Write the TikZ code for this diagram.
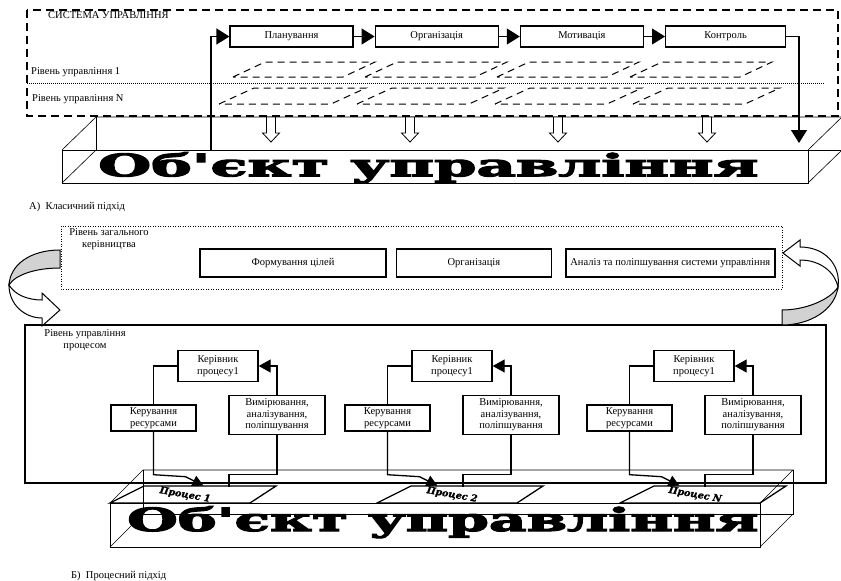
\documentclass[tikz,border=0pt]{standalone}
\usepackage{graphicx}
\usepackage{fontspec}
\setmainfont{Liberation Serif}
\newfontfamily\objfont{DejaVu Serif}[BoldFeatures={FakeBold=3}]
\newfontfamily\prfont{DejaVu Serif}[BoldItalicFeatures={FakeBold=1.5}]
\usetikzlibrary{positioning,arrows.meta,calc}

\tikzset{
  proc/.style={draw, line width=1.2pt, fill=white, minimum width=123pt, minimum height=21pt, inner sep=1pt},
  topbox/.style={draw, line width=1.4pt, fill=white, minimum height=28pt, inner sep=1pt},
  unitbox/.style={draw, line width=1.4pt, fill=white, align=center, inner sep=1pt, font=\fontsize{10.5}{11.5}\selectfont},
  flow/.style={line width=1.2pt, -{Triangle[length=13pt,width=16pt]}},
  link/.style={line width=1.3pt},
  wire/.style={line width=0.6pt},
  lvl/.style={line width=1pt, dash pattern=on 7pt off 5pt},
  ribbon/.style={draw, line width=1pt},
}

\begin{document}
\begin{tikzpicture}[x=1pt, y=-1pt, font=\fontsize{10.5}{12}\selectfont, node distance=21pt]
  \useasboundingbox (0,0) rectangle (841,581);

  % A) classic approach
  \draw[line width=1.3pt, dash pattern=on 8pt off 5pt] (27,10) rectangle (838,116);
  \node[anchor=west, inner sep=0] (sys) at (48,15) {СИСТЕМА УПРАВЛІННЯ};

  \node[proc] (plan) at (291.5,36.5) {Планування};
  \node[proc, right=of plan] (org) {Організація};
  \node[proc, right=of org] (motiv) {Мотивація};
  \node[proc, right=of motiv, minimum width=120pt] (kontr) {Контроль};

  \draw[flow] (plan) -- (org);
  \draw[flow] (org) -- (motiv);
  \draw[flow] (motiv) -- (kontr);

  \draw[line width=0.6pt, dash pattern=on 1pt off 1pt] (27,83) -- (825,83);
  \node[anchor=west, inner sep=0] (lvl1) at (31,72) {Рівень управління 1};
  \node[anchor=west, inner sep=0] (lvlN) at (32,99) {Рівень управління N};

  \foreach \px in {233,365,497,630}
    \draw[lvl] (\px,77) -- ++(32,-15) -- ++(110,0) -- ++(-32,15) -- cycle;
  \foreach \px in {219,357,495,633}
    \draw[lvl] (\px,104) -- ++(35,-16) -- ++(112,0) -- ++(-35,16) -- cycle;

  % object box (top)
  \draw[wire] (62,150) rectangle (808,183);
  \draw[wire] (62,150) -- (96,117) -- (842,117);
  \draw[wire] (96,117) -- (96,150) -- (842,150);
  \draw[wire] (62,183) -- (96,150);
  \draw[wire] (808,150) -- (842,117);
  \draw[wire] (808,183) -- (842,150);
  \node[anchor=north west, inner sep=0] (obj1) at (98,152)
    {\resizebox*{660pt}{31pt}{\objfont\bfseries Об'єкт управління}};

  \foreach \ax in {271,410,558,707}
    \draw[line width=0.8pt, fill=white] (\ax-4.5,117) -- (\ax+4.5,117) -- (\ax+4.5,133)
      -- (\ax+8.5,133) -- (\ax,142) -- (\ax-8.5,133) -- (\ax-4.5,133) -- cycle;

  \coordinate (fbin) at (211,150);
  \coordinate (fbout) at (799,143);
  \draw[flow] (fbin) |- (plan.west);
  \draw[flow] (kontr.east) -| (fbout);

  \node[anchor=west, inner sep=0] (capA) at (29,207) {А)\enspace Класичний підхід};

  % B) process approach
  \draw[line width=1pt, dash pattern=on 1pt off 1.5pt] (61,226) rectangle (782,289);
  \node[align=center, inner sep=0] (zag) at (109,239) {Рівень загального\\керівництва};

  \node[topbox, minimum width=186pt] (cili) at (293,263) {Формування цілей};
  \node[topbox, minimum width=155pt, right=9pt of cili] (org2) {Організація};
  \node[topbox, minimum width=209pt, right=13pt of org2] (analiz) {Аналіз та поліпшування системи управління};

  \draw[line width=1.5pt] (25,325) rectangle (826,483);
  \node[align=center, inner sep=0] (proclvl) at (85,340) {Рівень управління\\процесом};

  % curved arrows
  \draw[ribbon, fill=gray!35] (60,250) .. controls (30,250) and (10,265) .. (9,285)
    .. controls (15,275) and (35,268) .. (60,268) -- cycle;
  \draw[ribbon, fill=white] (9,285) .. controls (9,305) and (25,318) .. (42,318)
    -- (42,326) -- (60,310) -- (42,293) -- (42,300)
    .. controls (28,300) and (15,295) .. (9,285) -- cycle;
  \draw[ribbon, fill=gray!35] (782,325) .. controls (810,325) and (835,310) .. (838,287)
    .. controls (830,300) and (805,310) .. (782,310) -- cycle;
  \draw[ribbon, fill=white] (838,287) .. controls (841,265) and (825,247) .. (800,247)
    -- (800,240) -- (783,253) -- (800,266) -- (800,260)
    .. controls (820,260) and (835,272) .. (838,287) -- cycle;

  % object box (bottom)
  \draw[wire] (110,503) rectangle (760,547);
  \draw[wire] (110,503) -- (143,470) -- (793,470) -- (760,503);
  \draw[wire] (143,470) -- (143,514) -- (793,514) -- (793,470);
  \draw[wire] (110,547) -- (143,514);
  \draw[wire] (760,547) -- (793,514);
  \node[anchor=north west, inner sep=0] (obj2) at (127,506)
    {\resizebox*{631pt}{32pt}{\objfont\bfseries Об'єкт управління}};

  \foreach \g/\dx/\bx/\pn in {1/0/110/1, 2/234/377/2, 3/476/620/N} {
    \node[unitbox, minimum width=80pt, minimum height=31pt] (ker\g) at (218+\dx,366) {Керівник\\процесу1};
    \node[unitbox, minimum width=85pt, minimum height=26pt] (res\g) at (153.5+\dx,418) {Керування\\ресурсами};
    \node[unitbox, minimum width=96pt, minimum height=39pt] (vym\g) at (277+\dx,415) {Вимірювання,\\аналізування,\\поліпшування};
    \draw[line width=1.3pt] (\bx,503) -- ++(34,-17) -- ++(132,0) -- ++(-26,17) -- cycle;
    \node[rotate=-10, inner sep=0] (pr\g) at (\bx+75,495) {\prfont\bfseries\itshape\fontsize{9.5}{10}\selectfont Процес \pn};
    \coordinate (pin\g) at ($(vym\g.south)+(-48,52)$);
    \draw[link] (ker\g.west) -| (res\g.north);
    \draw[link, -{Triangle[length=11pt,width=11pt]}] (res\g.south) -- ++(0,43) -- ++(32,2) -- ++(18,9);
    \draw[link, -{Triangle[length=12pt,width=13pt]}] (vym\g.north) |- (ker\g.east);
    \draw[link] (vym\g.south) -- ++(0,39) -| (pin\g);
  }

  \node[anchor=west, inner sep=0] (capB) at (71,576) {Б)\enspace Процесний підхід};
\end{tikzpicture}
\end{document}
